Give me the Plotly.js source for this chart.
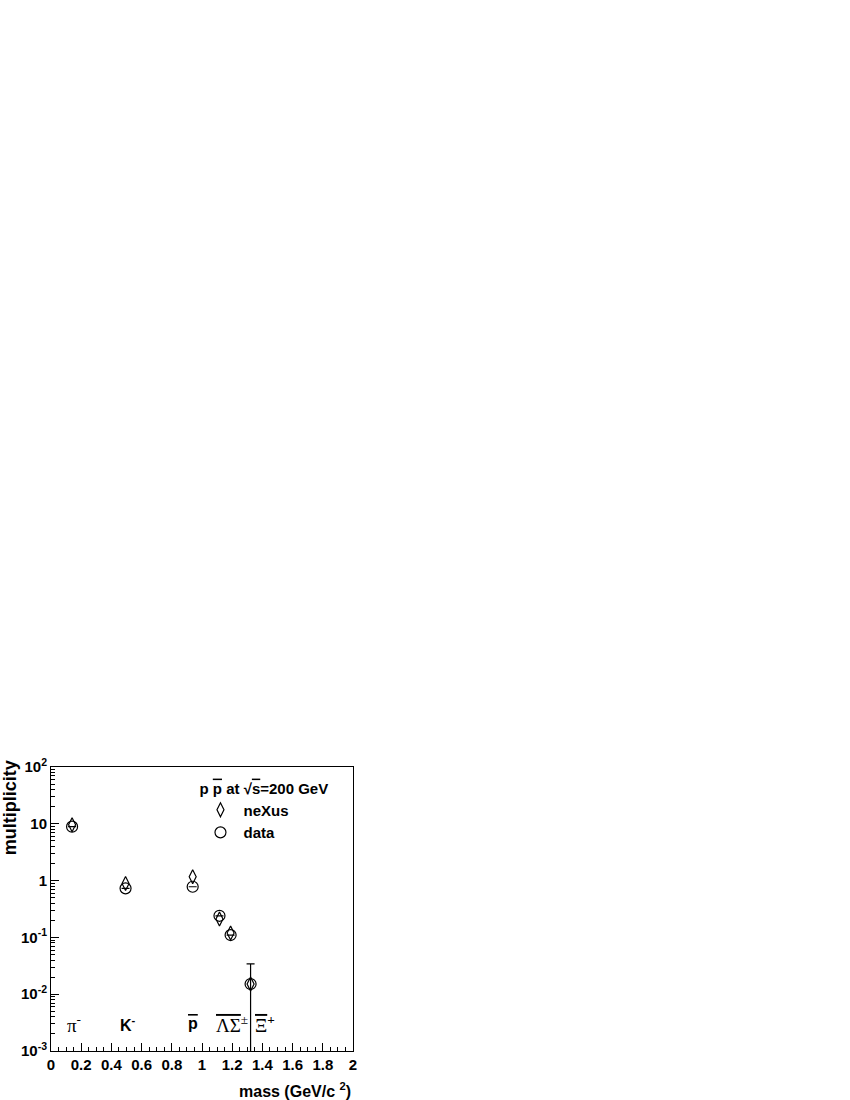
<!DOCTYPE html>
<html>
<head>
<meta charset="utf-8">
<script src="https://cdn.plot.ly/plotly-3.0.1.min.js"></script>
<style>
  body { margin: 0; padding: 0; background: #fff; }
  #fig { width: 850px; height: 1100px; }
</style>
</head>
<body>
<div id="fig"></div>
<script>
// particle masses (GeV/c^2): pi-, K-, pbar, Lambda, Sigma, Xi
var mass = [0.1396, 0.4937, 0.9383, 1.1157, 1.1894, 1.3217];
var nexus = [9.6, 0.89, 1.17, 0.21, 0.12, 0.0151];
var data_mult = [8.9, 0.73, 0.78, 0.24, 0.11, 0.0151];
var err_up = [null, null, null, null, null, 0.019];
var err_down = [null, null, null, null, null, 0.0151];

var ytickvals = [0.001, 0.01, 0.1, 1, 10, 100];
var yticktext = ['10<sup>-3</sup>', '10<sup>-2</sup>', '10<sup>-1</sup>', '1', '10', '10<sup>2</sup>'];

// particle labels along the bottom
var lab_text = ['π<sup>-</sup>', '<b>K<sup>-</sup></b>',
  '<b><span style="text-decoration:overline">p</span></b>',
  '<span style="text-decoration:overline">ΛΣ</span><sup>±</sup>',
  '<span style="text-decoration:overline">Ξ</span><sup><b>+</b></sup>'];
var lab_x = [0.15, 0.51, 0.94, 1.2, 1.42];
var lab_serif = [true, false, false, true, true];

var sans = 'Liberation Sans, Arial, sans-serif';
var serif = 'Liberation Serif, Times New Roman, serif';

var minorY = [];
for (var e = -3; e < 2; e++) {
  for (var k = 2; k <= 9; k++) minorY.push(k * Math.pow(10, e));
}

var trace1 = {
  x: mass,
  y: nexus,
  mode: 'markers',
  type: 'scatter',
  name: 'neXus',
  marker: {symbol: 'diamond-tall-open', size: 10, color: '#000', line: {width: 1.2, color: '#000'}}
};
var trace2 = {
  x: mass,
  y: data_mult,
  mode: 'markers',
  type: 'scatter',
  name: 'data',
  marker: {symbol: 'circle-open', size: 11, color: '#000', line: {width: 1.2, color: '#000'}},
  error_y: {type: 'data', symmetric: false, array: err_up, arrayminus: err_down,
            width: 4, thickness: 1.2, color: '#000'}
};

var annotations = [];
for (var i = 0; i < lab_text.length; i++) {
  annotations.push({
    x: lab_x[i], y: -2.52, xref: 'x', yref: 'y',
    text: lab_text[i],
    showarrow: false, xanchor: 'center', yanchor: 'middle',
    font: {family: lab_serif[i] ? serif : sans, size: lab_serif[i] ? 19 : 16, color: '#000'}
  });
}
annotations.push({
  xref: 'paper', yref: 'paper', x: -0.135, y: 1.03,
  xanchor: 'center', yanchor: 'top', textangle: -90,
  text: 'multiplicity', showarrow: false,
  font: {family: sans, size: 18, color: '#000', weight: 'bold'}
});
annotations.push({
  xref: 'paper', yref: 'paper', x: 1.0, y: -0.137,
  xanchor: 'right', yanchor: 'middle',
  text: 'mass (GeV/c <sup>2</sup>)', showarrow: false,
  font: {family: sans, size: 16, color: '#000', weight: 'bold'}
});

var layout = {
  width: 850,
  height: 1100,
  margin: {l: 51, r: 497, t: 767, b: 49},
  paper_bgcolor: '#fff',
  plot_bgcolor: '#fff',
  showlegend: true,
  legend: {
    x: 0.485, y: 0.975, xanchor: 'left', yanchor: 'top',
    bgcolor: 'rgba(0,0,0,0)',
    itemwidth: 36,
    title: {text: 'p <span style="text-decoration:overline">p</span> at √<span style="text-decoration:overline">s</span>=200 GeV',
            font: {family: sans, size: 15, color: '#000', weight: 'bold'}},
    font: {family: sans, size: 15, color: '#000', weight: 'bold'}
  },
  xaxis: {
    range: [0, 2],
    tickvals: [0, 0.2, 0.4, 0.6, 0.8, 1, 1.2, 1.4, 1.6, 1.8, 2],
    ticktext: ['0', '0.2', '0.4', '0.6', '0.8', '1', '1.2', '1.4', '1.6', '1.8', '2'],
    ticks: 'inside', ticklen: 8, tickcolor: '#000', tickwidth: 1,
    minor: {dtick: 0.05, ticks: 'inside', ticklen: 4, tickcolor: '#000', showgrid: false},
    showgrid: false, zeroline: false,
    showline: true, linecolor: '#000', linewidth: 1, mirror: true,
    tickfont: {family: sans, size: 15, color: '#000', weight: 'bold'}
  },
  yaxis: {
    type: 'log',
    range: [-3, 2],
    tickmode: 'array',
    tickvals: ytickvals,
    ticktext: yticktext,
    ticks: 'inside', ticklen: 8, tickcolor: '#000', tickwidth: 1,
    minor: {tickmode: 'array', tickvals: minorY, ticks: 'inside', ticklen: 4, tickcolor: '#000', showgrid: false},
    showgrid: false, zeroline: false,
    showline: true, linecolor: '#000', linewidth: 1, mirror: true,
    tickfont: {family: sans, size: 15, color: '#000', weight: 'bold'}
  },
  annotations: annotations
};

Plotly.newPlot('fig', [trace1, trace2], layout, {displayModeBar: false, staticPlot: true});
</script>
</body>
</html>
